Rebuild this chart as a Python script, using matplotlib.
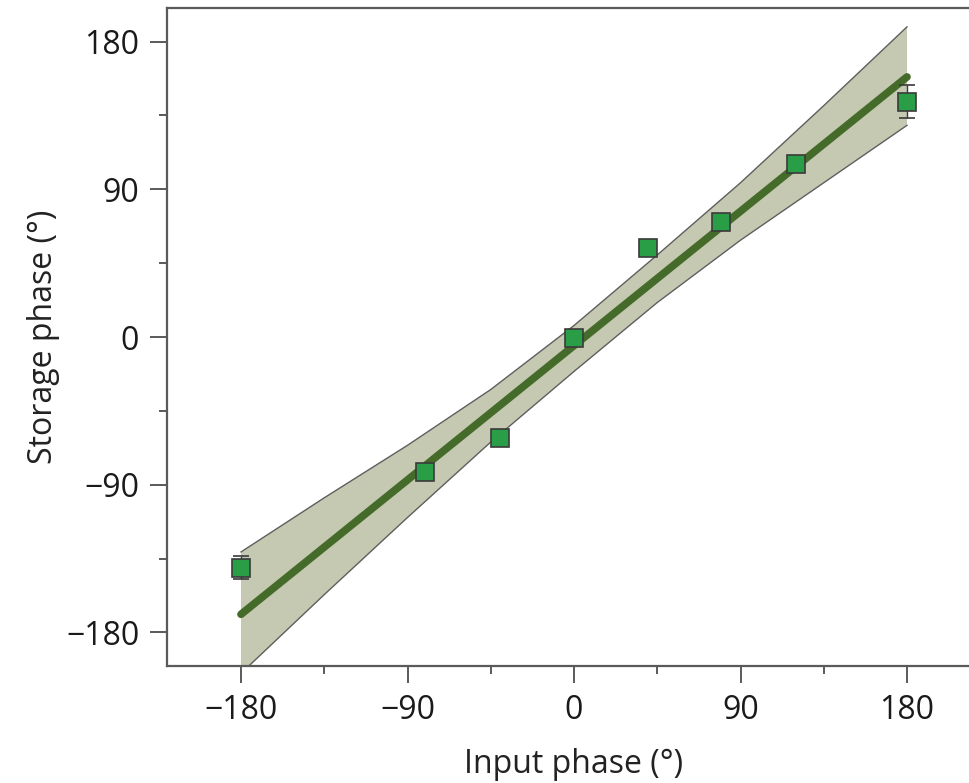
import matplotlib
matplotlib.use("Agg")
import matplotlib.pyplot as plt
import numpy as np

# Data
input_phase = [-180, -80.5, -40, 0, 40, 79.5, 120, 180]
storage_phase = [-140.5, -82.5, -61.5, -0.5, 54.5, 70, 105.5, 143.5]
storage_err = [7, 3, 3, 3, 3, 3, 3, 10]

fit_x = [-180, 180]
fit_y = [-169, 158.5]

band_x = [-180, -135, -90, -45, 0, 45, 90, 135, 180]
band_lo = [-205, -157, -110, -64, -21, 21, 59, 94, 129]
band_hi = [-131, -98, -66, -32, 7, 50, 94, 141, 189]

xticks = [-180, -90, 0, 90, 180]
yticks = [-180, -90, 0, 90, 180]
minor_ticks = [-135, -45, 45, 135]
tick_labels = ['\u2212180', '\u221290', '0', '90', '180']

plt.rcParams['font.family'] = ['Open Sans', 'DejaVu Sans']

fig = plt.figure(figsize=(9.69, 7.83), dpi=100)
ax = fig.add_axes([167/969, (783-666)/783, (981-167)/969, (666-8)/783])

ax.fill_between(band_x, band_lo, band_hi, facecolor='#c6c9b1', edgecolor='none', zorder=1)
ax.plot(band_x, band_lo, color='#5e5e5e', lw=1.0, zorder=2)
ax.plot(band_x, band_hi, color='#5e5e5e', lw=1.0, zorder=2)
ax.plot(fit_x, fit_y, color='#456b2b', lw=5.5, solid_capstyle='round', zorder=3)

ax.errorbar(input_phase, storage_phase, yerr=storage_err, fmt='s', ms=13,
            mfc='#2a9e46', mec='#3a3a3a', mew=1.2, ecolor='#3a3a3a',
            elinewidth=1.0, capsize=6, capthick=1.0, zorder=4)

ax.set_xlim(-220, 220)
ax.set_ylim(-200.5, 200.5)
ax.set_xticks(xticks)
ax.set_yticks(yticks)
ax.set_xticks(minor_ticks, minor=True)
ax.set_yticks(minor_ticks, minor=True)
ax.set_xticklabels(tick_labels)
ax.set_yticklabels(tick_labels)

for s in ['left', 'bottom', 'top', 'right']:
    ax.spines[s].set_color('#5a5a5a')
    ax.spines[s].set_linewidth(1.6)

ax.tick_params(which='major', direction='out', length=12, width=1.4, color='#5a5a5a',
               labelsize=23, pad=8, top=False, right=False, labelcolor='#1a1a1a')
ax.tick_params(which='minor', direction='out', length=6, width=1.4, color='#5a5a5a',
               top=False, right=False)

ax.set_xlabel('Input phase (\u00b0)', fontsize=23, labelpad=15, color='#222222')
ax.set_ylabel('Storage phase (\u00b0)', fontsize=23, labelpad=4, color='#222222')

fig.savefig('out.png', dpi=100)
